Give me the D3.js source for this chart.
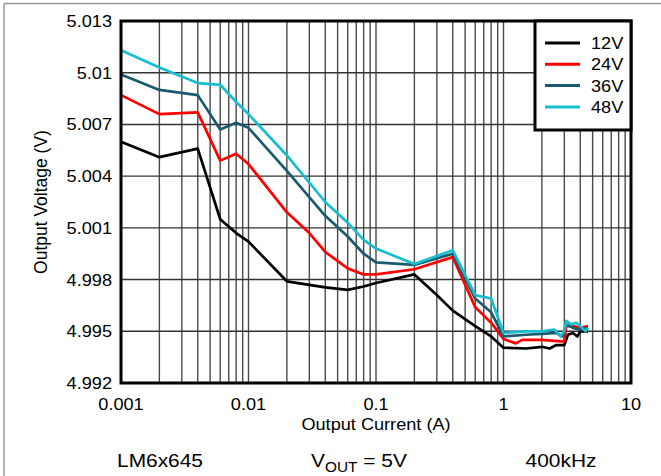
<!DOCTYPE html>
<html>
<head>
<meta charset="utf-8">
<script src="https://cdn.jsdelivr.net/npm/d3@7"></script>
<style>
    body { margin: 0; background: #fff; }
    text { font-family: "Liberation Sans", Arial, sans-serif; fill: #000; }
</style>
</head>
<body>
<div id="chart-area"></div>
<script>
// series names and colours
let seriesNames = ["12V", "24V", "36V", "48V"];
let seriesColors = ["#000000", "#ff0000", "#1b5a6e", "#17becf"];

// [output current (A), output voltage (V)]
let data12V = [[0.001, 5.0060], [0.002, 5.0051], [0.004, 5.0056], [0.006, 5.0015], [0.008, 5.0007], [0.01, 5.0002],
    [0.02, 4.9979], [0.04, 4.99755], [0.06, 4.9974], [0.08, 4.9976], [0.1, 4.9978], [0.2, 4.9983], [0.3, 4.9971],
    [0.4, 4.9962], [0.6, 4.9953], [0.8, 4.9947], [1.0, 4.99405], [1.5, 4.9940], [2.0, 4.9941], [2.3, 4.9940],
    [2.6, 4.9942], [3.0, 4.9942], [3.2, 4.9948], [3.5, 4.9949], [3.8, 4.9947], [4.0, 4.9950], [4.6, 4.9950]];
let data24V = [[0.001, 5.0087], [0.002, 5.0076], [0.004, 5.0077], [0.006, 5.0049], [0.008, 5.0053], [0.01, 5.0047],
    [0.02, 5.0019], [0.03, 5.0007], [0.04, 4.9996], [0.06, 4.99865], [0.08, 4.9983], [0.1, 4.9983], [0.2, 4.9986],
    [0.4, 4.9993], [0.6, 4.9964], [0.8, 4.9955], [1.0, 4.99455], [1.25, 4.9943], [1.4, 4.9945], [2.0, 4.9945],
    [3.0, 4.9944], [3.1, 4.9953], [3.5, 4.9953], [4.0, 4.9952], [4.6, 4.9953]];
let data36V = [[0.001, 5.0099], [0.002, 5.0090], [0.004, 5.0087], [0.006, 5.0067], [0.008, 5.0071], [0.01, 5.0068],
    [0.02, 5.0043], [0.04, 5.0017], [0.06, 5.0005], [0.08, 4.9995], [0.1, 4.9990], [0.2, 4.99885], [0.4, 4.9995],
    [0.6, 4.9969], [0.8, 4.9961], [1.0, 4.9947], [1.5, 4.9948], [2.0, 4.99485], [2.6, 4.9949], [2.9, 4.9947],
    [3.1, 4.9954], [3.5, 4.9952], [4.0, 4.9951], [4.6, 4.9952]];
let data48V = [[0.001, 5.0113], [0.002, 5.0103], [0.004, 5.0094], [0.006, 5.0093], [0.008, 5.0083], [0.01, 5.0076],
    [0.02, 5.0052], [0.04, 5.0025], [0.06, 5.0013], [0.08, 5.0003], [0.1, 4.9998], [0.2, 4.9989], [0.4, 4.9997],
    [0.6, 4.9971], [0.8, 4.9969], [1.0, 4.9949], [1.5, 4.9950], [2.0, 4.9950], [2.5, 4.9951], [2.8, 4.9947],
    [3.0, 4.9950], [3.1, 4.9956], [3.4, 4.9954], [3.7, 4.9955], [4.0, 4.9953], [4.4, 4.9950], [4.6, 4.9952]];
let allSeries = [data12V, data24V, data36V, data48V];

// tick labels
let xTicks = [0.001, 0.01, 0.1, 1, 10];
let xTickLabels = ["0.001", "0.01", "0.1", "1", "10"];
let yTicks = [4.992, 4.995, 4.998, 5.001, 5.004, 5.007, 5.010, 5.013];
let yTickLabels = ["4.992", "4.995", "4.998", "5.001", "5.004", "5.007", "5.01", "5.013"];

let width = 661, height = 476;
let margin = {top: 21, right: 30, bottom: 93, left: 121};
let stretch = 1.1;   // text in the picture is a little wide

let svg = d3.select("#chart-area").append("svg")
    .attr("width", width)
    .attr("height", height);

svg.append("rect").attr("width", width).attr("height", height).attr("fill", "#fff");

// outer frame (only top and left visible)
svg.append("line").attr("x1", 4).attr("x2", width).attr("y1", 3.5).attr("y2", 3.5)
    .attr("stroke", "#999").attr("stroke-width", 1.5);
svg.append("line").attr("x1", 4).attr("x2", 4).attr("y1", 3.5).attr("y2", height)
    .attr("stroke", "#999").attr("stroke-width", 1.5);

let x = d3.scaleLog()
    .domain([0.001, 10])
    .range([margin.left, width - margin.right]);

let y = d3.scaleLinear()
    .domain([4.992, 5.013])
    .range([height - margin.bottom, margin.top]);

// helper for stretched text
function addText(g, px, py, str, anchor, size) {
    return g.append("text")
        .attr("transform", `translate(${px}, ${py}) scale(${stretch}, 1)`)
        .attr("text-anchor", anchor)
        .style("font-size", (size || 16.5) + "px")
        .text(str);
}

// grid lines: every 1..9 in each decade
let gridVals = [];
for (let d = -3; d < 1; d++) {
    for (let m = 1; m <= 9; m++) {
        let v = m * Math.pow(10, d);
        if (v > 0.001) gridVals.push(v);
    }
}
svg.append("g").selectAll("line")
    .data(gridVals)
    .enter().append("line")
    .attr("x1", d => x(d)).attr("x2", d => x(d))
    .attr("y1", y(5.013)).attr("y2", y(4.992))
    .attr("stroke", "#4a4a4a")
    .attr("stroke-width", 1.4);

svg.append("g").selectAll("line")
    .data(yTicks.slice(1, -1))
    .enter().append("line")
    .attr("x1", x(0.001)).attr("x2", x(10))
    .attr("y1", d => y(d)).attr("y2", d => y(d))
    .attr("stroke", "#333")
    .attr("stroke-width", 1.4);

// data lines
let line = d3.line()
    .x(d => x(d[0]))
    .y(d => y(d[1]));

svg.append("g").selectAll("path")
    .data(allSeries)
    .enter().append("path")
    .attr("d", line)
    .attr("fill", "none")
    .attr("stroke", (d, i) => seriesColors[i])
    .attr("stroke-width", 2.7)
    .attr("stroke-linejoin", "round");

// plot frame
svg.append("rect")
    .attr("x", x(0.001)).attr("y", y(5.013))
    .attr("width", x(10) - x(0.001))
    .attr("height", y(4.992) - y(5.013))
    .attr("fill", "none")
    .attr("stroke", "#000")
    .attr("stroke-width", 3);

// y tick labels
let labels = svg.append("g");
yTicks.forEach((t, i) => {
    addText(labels, 112, y(t) + 6, yTickLabels[i], "end");
});

// x tick labels
xTicks.forEach((t, i) => {
    addText(labels, x(t), 410, xTickLabels[i], "middle");
});

// axis titles
addText(labels, (x(0.001) + x(10)) / 2, 430, "Output Current (A)", "middle");

labels.append("text")
    .attr("transform", `translate(47, ${(y(4.992) + y(5.013)) / 2}) rotate(-90) scale(1.06, 1.08)`)
    .attr("text-anchor", "middle")
    .style("font-size", "16.5px")
    .text("Output Voltage (V)");

// legend
let legend = svg.append("g");
legend.append("rect")
    .attr("x", 535).attr("y", y(5.013))
    .attr("width", x(10) - 535)
    .attr("height", 109)
    .attr("fill", "#fff")
    .attr("stroke", "#000")
    .attr("stroke-width", 3);

seriesNames.forEach((name, i) => {
    let ly = 43 + i * 21.3;
    legend.append("line")
        .attr("x1", 545).attr("x2", 580)
        .attr("y1", ly).attr("y2", ly)
        .attr("stroke", seriesColors[i])
        .attr("stroke-width", 3);
    addText(legend, 591, ly + 6, name, "start");
});

// bottom notes
addText(labels, 160, 467, "LM6x645", "middle", 19);
addText(labels, 561, 467, "400kHz", "middle", 19);

let vout = labels.append("text")
    .attr("transform", `translate(359, 467) scale(${stretch}, 1)`)
    .attr("text-anchor", "middle")
    .style("font-size", "19px");
vout.append("tspan").text("V");
vout.append("tspan").attr("dy", 5).style("font-size", "14px").text("OUT");
vout.append("tspan").attr("dy", -5).text(" = 5V");
</script>
</body>
</html>
